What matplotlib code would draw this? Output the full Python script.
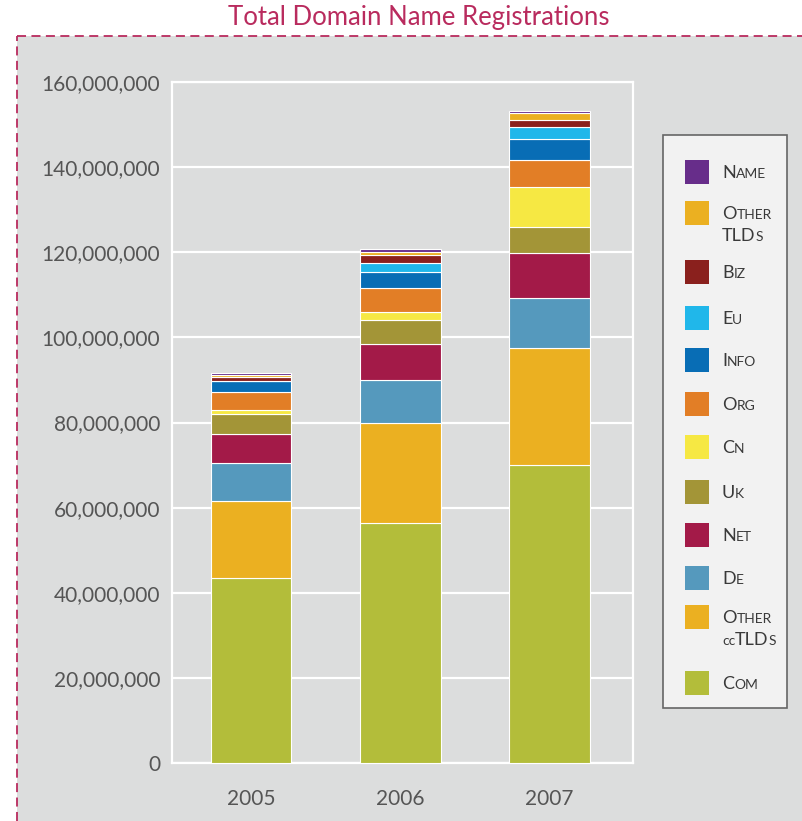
import matplotlib
matplotlib.use("Agg")
import matplotlib.pyplot as plt
from matplotlib.patches import Rectangle
from matplotlib.lines import Line2D
from matplotlib.ticker import FuncFormatter
from matplotlib.offsetbox import TextArea, HPacker, VPacker, AnchoredOffsetbox

years = ["2005", "2006", "2007"]

# stacking order bottom -> top (millions)
com = [43.5, 56.5, 70.0]
other_cc = [18.0, 23.3, 27.4]
de = [9.1, 10.2, 11.8]
net = [6.8, 8.5, 10.6]
uk = [4.5, 5.6, 6.2]
cn = [1.0, 1.8, 9.3]
org = [4.3, 5.7, 6.3]
info = [2.6, 3.7, 4.9]
eu = [0.0, 2.2, 2.9]
biz = [1.0, 1.8, 1.7]
other_tlds = [0.4, 0.7, 1.6]
name = [0.4, 0.8, 0.5]

series = [
    (("C", "OM"), com, "#b3bd3a"),
    (("O", "THER\nccTLD", "S"), other_cc, "#ebb021"),
    (("D", "E"), de, "#5599bd"),
    (("N", "ET"), net, "#a31a48"),
    (("U", "K"), uk, "#a39537"),
    (("C", "N"), cn, "#f6e843"),
    (("O", "RG"), org, "#e27e26"),
    (("I", "NFO"), info, "#086db5"),
    (("E", "U"), eu, "#20b7ea"),
    (("B", "IZ"), biz, "#8a201d"),
    (("O", "THER\nTLD", "S"), other_tlds, "#ebb021"),
    (("N", "AME"), name, "#672d8a"),
]

W, H = 803, 821
fig = plt.figure(figsize=(W / 100, H / 100), dpi=100)
fig.patch.set_facecolor("white")

FONT = "Lato"
GRAY_BG = "#dcdddd"
CRIMSON = "#b92b5e"

# gray panel with dashed border
fig.patches.append(Rectangle((17 / W, 0), 1, 1 - 36 / H, transform=fig.transFigure,
                             facecolor=GRAY_BG, edgecolor="none", zorder=-5))
fig.lines.append(Line2D([17 / W, 17 / W], [0, 1 - 36 / H], transform=fig.transFigure,
                        color=CRIMSON, lw=1.3, ls=(0, (5, 3)), zorder=-4))
fig.lines.append(Line2D([17 / W, 1], [1 - 36 / H, 1 - 36 / H], transform=fig.transFigure,
                        color=CRIMSON, lw=1.3, ls=(0, (5, 3)), zorder=-4))

fig.text(419 / W, 1 - 17 / H, "Total Domain Name Registrations", ha="center", va="center",
         fontsize=18.5, color=CRIMSON, family=FONT)

ax = fig.add_axes([172 / W, 58 / H, 461 / W, 681 / H])
ax.set_zorder(1)
ax.set_facecolor(GRAY_BG)
x = list(range(len(years)))
bottom = [0.0] * len(years)
for lab, vals, col in series:
    v = [a * 1e6 for a in vals]
    ax.bar(x, v, width=0.54, bottom=bottom, color=col, edgecolor="white", linewidth=0.8, zorder=3)
    bottom = [b + c for b, c in zip(bottom, v)]

ax.set_ylim(0, 160e6)
ax.set_xlim(-0.53, 2.56)
ax.set_yticks([i * 20e6 for i in range(9)])
ax.yaxis.set_major_formatter(FuncFormatter(lambda v, p: f"{int(round(v)):,}"))
ax.set_xticks(x)
ax.set_xticklabels(years)
ax.grid(axis="y", color="white", lw=1.6, zorder=1)
ax.set_axisbelow(True)
for s in ax.spines.values():
    s.set_color("white")
    s.set_linewidth(1.6)
ax.tick_params(length=0, labelsize=15, colors="#555555")
ax.tick_params(axis="y", pad=8.5)
ax.tick_params(axis="x", pad=19)
for t in ax.get_xticklabels() + ax.get_yticklabels():
    t.set_family(FONT)

# legend panel
fig.patches.append(Rectangle((663 / W, 1 - 708 / H), 124 / W, 573 / H, transform=fig.transFigure,
                             facecolor="#f2f2f2", edgecolor="#666666", lw=1.2, zorder=2))

centers = [683, 617, 578, 535, 492, 447, 404, 360, 318, 272, 213, 172]
big = dict(fontsize=13, color="#3a3a3a", family=FONT)
small = dict(fontsize=10, color="#3a3a3a", family=FONT)
for (lab, vals, col), cy in zip(series, centers):
    sw = 24
    fig.patches.append(Rectangle((685 / W, 1 - (cy + sw / 2) / H), sw / W, sw / H,
                                 transform=fig.transFigure, facecolor=col,
                                 edgecolor="none", zorder=3))
    if len(lab) == 2:
        box = HPacker(children=[TextArea(lab[0], textprops=big), TextArea(lab[1], textprops=small)],
                      align="baseline", pad=0, sep=0)
        yy = cy + 1
    else:
        line1, line2 = lab[1].split("\n")
        row1 = HPacker(children=[TextArea(lab[0], textprops=big), TextArea(line1, textprops=small)],
                       align="baseline", pad=0, sep=0)
        if line2 == "TLD":
            row2 = HPacker(children=[TextArea("TLD", textprops=big), TextArea(lab[2], textprops=small)],
                           align="baseline", pad=0, sep=0)
        else:
            row2 = HPacker(children=[TextArea("cc", textprops=small), TextArea("TLD", textprops=big),
                                     TextArea(lab[2], textprops=small)],
                           align="baseline", pad=0, sep=0)
        box = VPacker(children=[row1, row2], align="left", pad=0, sep=5)
        yy = cy + 12
    ab = AnchoredOffsetbox(loc="center left", child=box, frameon=False, pad=0, borderpad=0,
                           bbox_to_anchor=(722 / W, 1 - yy / H), bbox_transform=fig.transFigure)
    ab.set_zorder(4)
    fig.add_artist(ab)

fig.savefig("out.png", dpi=100)
